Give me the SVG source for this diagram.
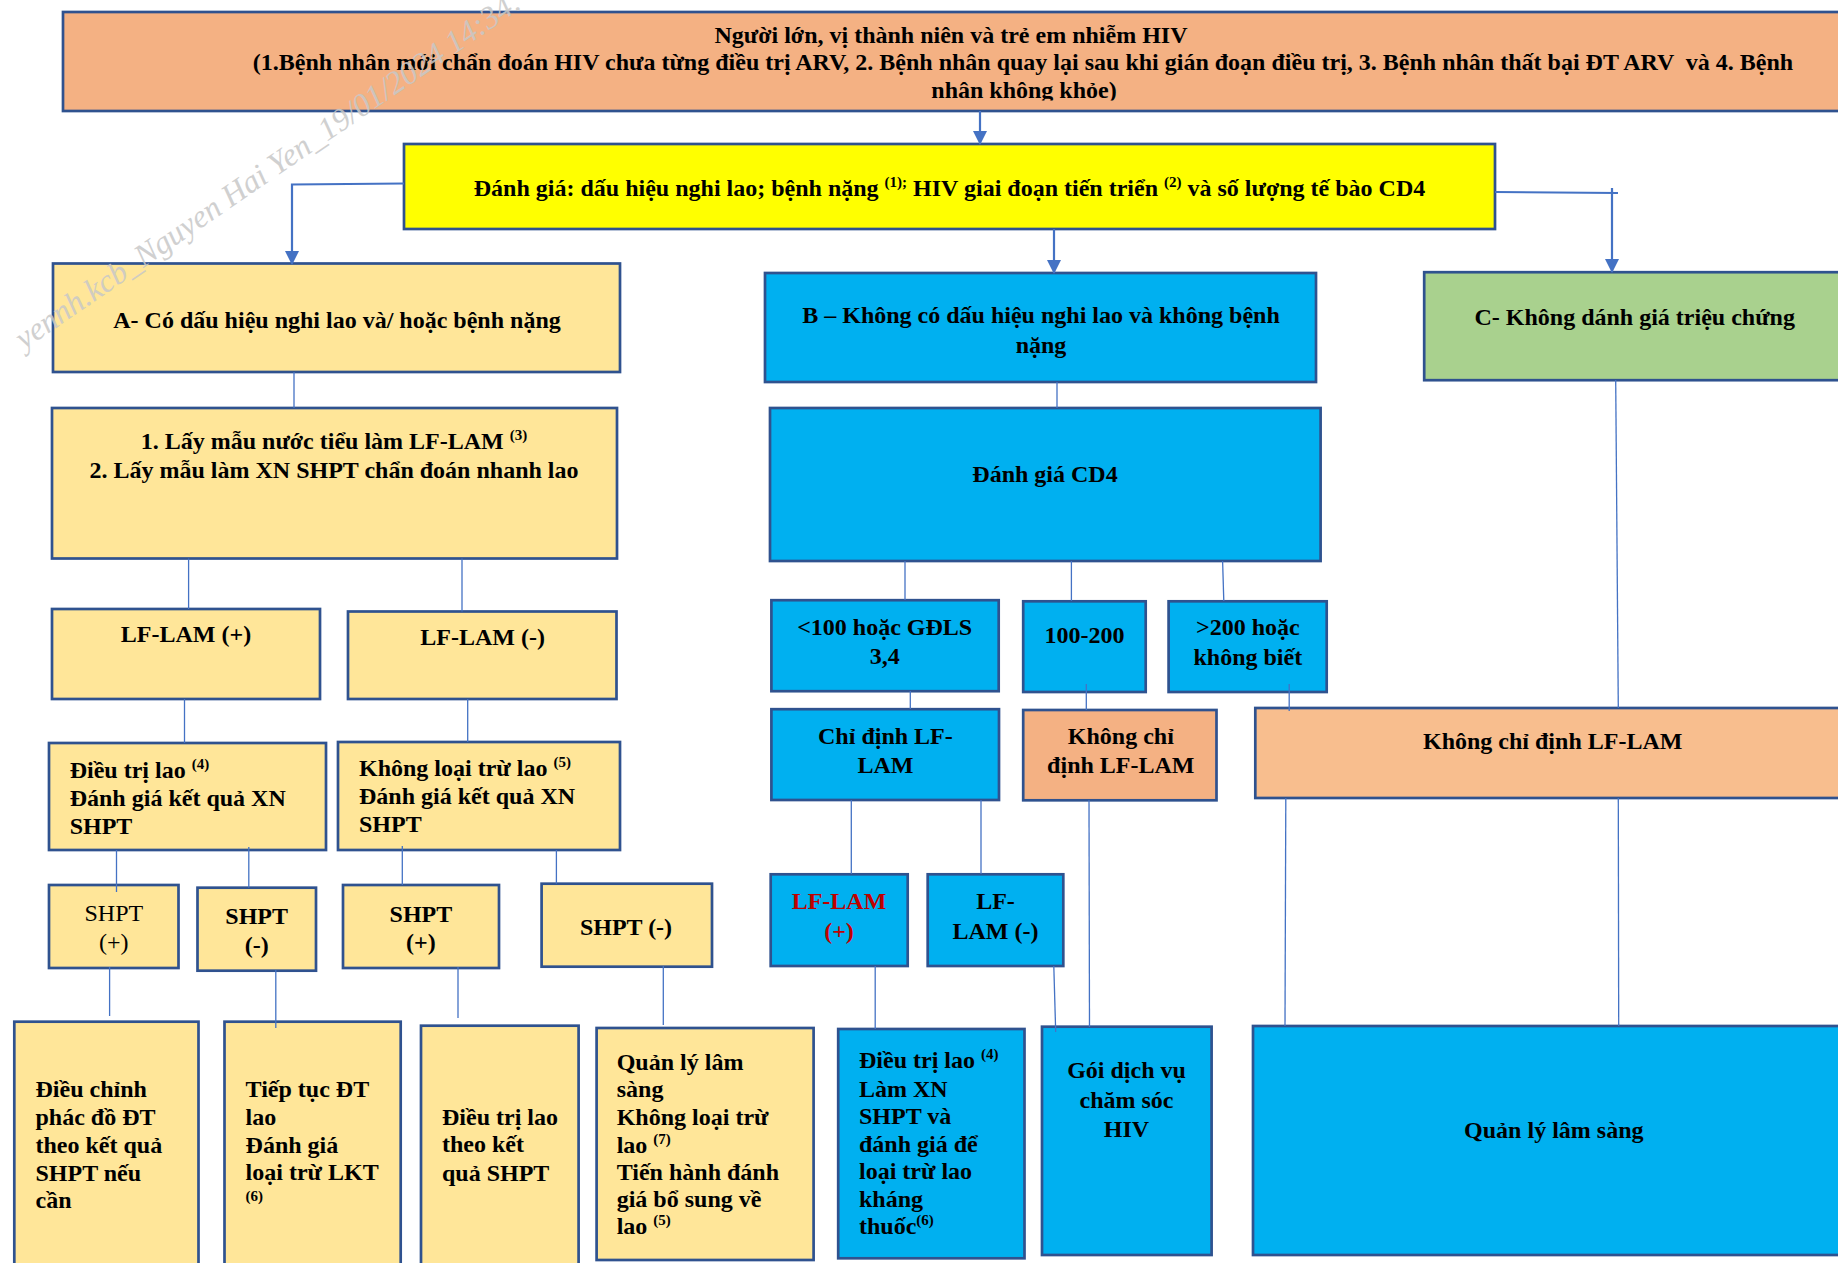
<svg xmlns="http://www.w3.org/2000/svg" width="1838" height="1263" viewBox="0 0 1838 1263">
<style>
  .box{stroke:#2F528F;stroke-width:2.7}
  .salmon{fill:#F4B183}
  .yel{fill:#FFFF00}
  .cream{fill:#FFE699}
  .blue{fill:#00B0F0}
  .green{fill:#A9D18E}
  .peach{fill:#F8BE8E}
  text{font-family:"Liberation Serif","Times New Roman",serif;font-size:24px;font-weight:bold;fill:#000}
  .m{text-anchor:middle}
  .reg{font-weight:normal}
  .red{fill:#C00000}
  .sup{font-size:15px}
  .ln{stroke:#4472C4;stroke-width:1.3;fill:none}
  .ar{stroke:#4472C4;stroke-width:2.2;fill:none}
  .wm{font-family:"Liberation Serif","Times New Roman",serif;font-style:italic;font-weight:normal;font-size:32px;fill:#C8C8C8;opacity:0.85}
</style>
<defs>
  <marker id="arr" markerUnits="userSpaceOnUse" markerWidth="14" markerHeight="14" refX="13" refY="7" orient="auto">
    <path d="M0,0 L14,7 L0,14 z" fill="#4472C4"/>
  </marker>
  <clipPath id="clipTop"><rect x="0" y="0" width="1838" height="100.5"/></clipPath>
</defs>
<rect x="0" y="0" width="1838" height="1263" fill="#FFFFFF"/>

<g id="node-top">
  <rect class="box salmon" x="63" y="12" width="1800" height="99"/>
  <text class="m" x="951" y="43">Người lớn, vị thành niên và trẻ em nhiễm HIV</text>
  <text class="m" x="1023" y="70" xml:space="preserve">(1.Bệnh nhân mới chẩn đoán HIV chưa từng điều trị ARV, 2. Bệnh nhân quay lại sau khi gián đoạn điều trị, 3. Bệnh nhân thất bại ĐT ARV  và 4. Bệnh</text>
  <text class="m" x="1024" y="98" clip-path="url(#clipTop)">nhân không khỏe)</text>
</g>

<g id="node-assess">
  <rect class="box yel" x="404" y="144" width="1091" height="85"/>
  <text class="m" x="949.5" y="195.5">Đánh giá: dấu hiệu nghi lao; bệnh nặng <tspan class="sup" dy="-9">(1);</tspan><tspan dy="9"> HIV giai đoạn tiến triển </tspan><tspan class="sup" dy="-9">(2)</tspan><tspan dy="9"> và số lượng tế bào CD4</tspan></text>
</g>

<g id="node-A">
  <rect class="box cream" x="53" y="263.5" width="567" height="108.5"/>
  <text class="m" x="337" y="328">A- Có dấu hiệu nghi lao và/ hoặc bệnh nặng</text>
</g>
<g id="node-A1">
  <rect class="box cream" x="52" y="408" width="565" height="150.5"/>
  <text class="m" x="334" y="449">1. Lấy mẫu nước tiểu làm LF-LAM <tspan class="sup" dy="-9">(3)</tspan></text>
  <text class="m" x="334" y="478">2. Lấy mẫu làm XN SHPT chẩn đoán nhanh lao</text>
</g>
<g id="node-lflam-pos">
  <rect class="box cream" x="52" y="609" width="268" height="90"/>
  <text class="m" x="186" y="642">LF-LAM (+)</text>
</g>
<g id="node-lflam-neg">
  <rect class="box cream" x="348" y="611.5" width="268.5" height="87.5"/>
  <text class="m" x="482.6" y="645">LF-LAM (-)</text>
</g>
<g id="node-dtl">
  <rect class="box cream" x="49" y="743" width="277" height="107"/>
  <text x="69.7" y="778">Điều trị lao <tspan class="sup" dy="-9">(4)</tspan></text>
  <text x="69.7" y="806">Đánh giá kết quả XN</text>
  <text x="69.7" y="834">SHPT</text>
</g>
<g id="node-klt">
  <rect class="box cream" x="338" y="742" width="282" height="108"/>
  <text x="359" y="776">Không loại trừ lao <tspan class="sup" dy="-9">(5)</tspan></text>
  <text x="359" y="804">Đánh giá kết quả XN</text>
  <text x="359" y="832">SHPT</text>
</g>
<g id="node-s1">
  <rect class="box cream" x="49" y="885" width="129.5" height="83"/>
  <text class="m reg" x="113.8" y="921">SHPT</text>
  <text class="m reg" x="113.8" y="950">(+)</text>
</g>
<g id="node-s2">
  <rect class="box cream" x="197.5" y="887.7" width="118.5" height="83"/>
  <text class="m" x="256.7" y="924">SHPT</text>
  <text class="m" x="256.7" y="953">(-)</text>
</g>
<g id="node-s3">
  <rect class="box cream" x="343" y="885" width="156" height="83"/>
  <text class="m" x="420.9" y="921.7">SHPT</text>
  <text class="m" x="420.9" y="950">(+)</text>
</g>
<g id="node-s4">
  <rect class="box cream" x="541.6" y="883.7" width="170.4" height="83"/>
  <text class="m" x="626" y="935">SHPT (-)</text>
</g>
<g id="node-b1">
  <rect class="box cream" x="14.3" y="1021.7" width="184.2" height="260"/>
  <text x="35.5" y="1096.7">Điều chỉnh</text>
  <text x="35.5" y="1125">phác đồ ĐT</text>
  <text x="35.5" y="1153">theo kết quả</text>
  <text x="35.5" y="1180.7">SHPT nếu</text>
  <text x="35.5" y="1208">cần</text>
</g>
<g id="node-b2">
  <rect class="box cream" x="224.5" y="1021.7" width="176.2" height="260"/>
  <text x="245.6" y="1096.7">Tiếp tục ĐT</text>
  <text x="245.6" y="1125">lao</text>
  <text x="245.6" y="1153">Đánh giá</text>
  <text x="245.6" y="1180">loại trừ LKT</text>
  <text class="sup" x="245.6" y="1201">(6)</text>
</g>
<g id="node-b3">
  <rect class="box cream" x="421" y="1025.7" width="157.6" height="260"/>
  <text x="442" y="1125">Điều trị lao</text>
  <text x="442" y="1152">theo kết</text>
  <text x="442" y="1180.7">quả SHPT</text>
</g>
<g id="node-b4">
  <rect class="box cream" x="596.6" y="1028" width="217" height="232"/>
  <text x="616.7" y="1070">Quản lý lâm</text>
  <text x="616.7" y="1097.3">sàng</text>
  <text x="616.7" y="1125">Không loại trừ</text>
  <text x="616.7" y="1153">lao <tspan class="sup" dy="-9">(7)</tspan></text>
  <text x="616.7" y="1180">Tiến hành đánh</text>
  <text x="616.7" y="1206.7">giá bổ sung về</text>
  <text x="616.7" y="1234">lao <tspan class="sup" dy="-9">(5)</tspan></text>
</g>

<g id="node-B">
  <rect class="box blue" x="765" y="273" width="551" height="109"/>
  <text class="m" x="1041" y="322.7">B – Không có dấu hiệu nghi lao và không bệnh</text>
  <text class="m" x="1041" y="352.6">nặng</text>
</g>
<g id="node-cd4">
  <rect class="box blue" x="770" y="408" width="550.6" height="153"/>
  <text class="m" x="1045" y="481.5">Đánh giá CD4</text>
</g>
<g id="node-lt100">
  <rect class="box blue" x="771.4" y="600.2" width="227.3" height="91"/>
  <text class="m" x="884.7" y="634.6">&lt;100 hoặc GĐLS</text>
  <text class="m" x="884.7" y="664">3,4</text>
</g>
<g id="node-100-200">
  <rect class="box blue" x="1023.2" y="601.3" width="122.5" height="90.7"/>
  <text class="m" x="1084.4" y="643.4">100-200</text>
</g>
<g id="node-gt200">
  <rect class="box blue" x="1168.6" y="601.3" width="158.1" height="90.7"/>
  <text class="m" x="1247.8" y="634.6">&gt;200 hoặc</text>
  <text class="m" x="1247.8" y="665.2">không biết</text>
</g>
<g id="node-chidinh">
  <rect class="box blue" x="771.4" y="709.2" width="227.6" height="90.8"/>
  <text class="m" x="885.4" y="743.7">Chỉ định LF-</text>
  <text class="m" x="885.4" y="773">LAM</text>
</g>
<g id="node-khongchidinh">
  <rect class="box salmon" x="1023.2" y="710" width="193.3" height="90.3"/>
  <text class="m" x="1120.8" y="743.7">Không chỉ</text>
  <text class="m" x="1120.8" y="773">định LF-LAM</text>
</g>
<g id="node-lfpos-b">
  <rect class="box blue" x="770.7" y="874.3" width="137" height="91.7"/>
  <text class="m red" x="839" y="909">LF-LAM</text>
  <text class="m red" x="839" y="939">(+)</text>
</g>
<g id="node-lfneg-b">
  <rect class="box blue" x="927.7" y="874.3" width="135.6" height="91.7"/>
  <text class="m" x="995.5" y="909">LF-</text>
  <text class="m" x="995.5" y="939">LAM (-)</text>
</g>
<g id="node-dtl-b">
  <rect class="box blue" x="838.2" y="1029" width="186.3" height="229.3"/>
  <text x="859" y="1068.3">Điều trị lao <tspan class="sup" dy="-9">(4)</tspan></text>
  <text x="859" y="1096.7">Làm XN</text>
  <text x="859" y="1124">SHPT và</text>
  <text x="859" y="1151.7">đánh giá để</text>
  <text x="859" y="1179">loại trừ lao</text>
  <text x="859" y="1206.7">kháng</text>
  <text x="859" y="1234.3">thuốc<tspan class="sup" dy="-9">(6)</tspan></text>
</g>
<g id="node-goi">
  <rect class="box blue" x="1042" y="1026.7" width="169.6" height="228.3"/>
  <text class="m" x="1126.5" y="1078.3">Gói dịch vụ</text>
  <text class="m" x="1126.5" y="1107.7">chăm sóc</text>
  <text class="m" x="1126.5" y="1136.7">HIV</text>
</g>

<g id="node-C">
  <rect class="box green" x="1424.2" y="272.2" width="500" height="108"/>
  <text class="m" x="1634.7" y="324.6">C- Không dánh giá triệu chứng</text>
</g>
<g id="node-khongchidinh-wide">
  <rect class="box peach" x="1255.3" y="708" width="600" height="90"/>
  <text class="m" x="1552.7" y="749.4">Không chỉ định LF-LAM</text>
</g>
<g id="node-qlls">
  <rect class="box blue" x="1253" y="1026" width="600" height="229"/>
  <text class="m" x="1553.8" y="1137.7">Quản lý lâm sàng</text>
</g>

<g id="connectors">
  <line class="ar" x1="980" y1="111" x2="980" y2="144" marker-end="url(#arr)"/>
  <polyline class="ar" points="404,183.5 292,184.5 292,264" marker-end="url(#arr)"/>
  <line class="ar" x1="1054" y1="229" x2="1054" y2="273" marker-end="url(#arr)"/>
  <line class="ar" x1="1495" y1="192" x2="1618" y2="193"/>
  <line class="ar" x1="1612" y1="188" x2="1612" y2="272" marker-end="url(#arr)"/>

  <line class="ln" x1="294" y1="372" x2="294" y2="408"/>
  <line class="ln" x1="188.6" y1="558.5" x2="188.6" y2="609"/>
  <line class="ln" x1="462" y1="558.5" x2="462" y2="611.5"/>
  <line class="ln" x1="184.5" y1="699" x2="184.5" y2="743"/>
  <line class="ln" x1="467.7" y1="699" x2="467.7" y2="742"/>
  <line class="ln" x1="116.5" y1="850" x2="116.5" y2="892"/>
  <line class="ln" x1="248.8" y1="847" x2="248.8" y2="887.7"/>
  <line class="ln" x1="402.3" y1="846" x2="402.3" y2="885"/>
  <line class="ln" x1="556.4" y1="850" x2="556.4" y2="883.7"/>
  <line class="ln" x1="109.6" y1="967" x2="109.6" y2="1016"/>
  <line class="ln" x1="275.8" y1="970" x2="275.8" y2="1028"/>
  <line class="ln" x1="458" y1="967" x2="458" y2="1018"/>
  <line class="ln" x1="663.3" y1="966" x2="663.3" y2="1025"/>

  <line class="ln" x1="1057" y1="382" x2="1057" y2="408"/>
  <line class="ln" x1="905" y1="561" x2="905" y2="600"/>
  <line class="ln" x1="1071.4" y1="561" x2="1071.4" y2="601"/>
  <line class="ln" x1="1222.6" y1="561" x2="1223.8" y2="601"/>
  <line class="ln" x1="910.3" y1="691" x2="910.3" y2="709"/>
  <line class="ln" x1="1086.3" y1="684" x2="1086.3" y2="710"/>
  <line class="ln" x1="1289.2" y1="684" x2="1289.2" y2="711"/>
  <line class="ln" x1="1615.7" y1="380" x2="1618.3" y2="708"/>
  <line class="ln" x1="851.3" y1="800" x2="851.3" y2="874"/>
  <line class="ln" x1="981" y1="800" x2="981" y2="874"/>
  <line class="ln" x1="1089" y1="800" x2="1089.5" y2="1027"/>
  <line class="ln" x1="875.2" y1="966" x2="875.2" y2="1029"/>
  <line class="ln" x1="1053.8" y1="966" x2="1055.7" y2="1032"/>
  <line class="ln" x1="1285.8" y1="798" x2="1285" y2="1026"/>
  <line class="ln" x1="1618.3" y1="798" x2="1618.7" y2="1026"/>
</g>

<text class="wm" transform="translate(24,350) rotate(-34.5)">yennh.kcb_Nguyen Hai Yen_19/01/2024 14:34:</text>
</svg>
